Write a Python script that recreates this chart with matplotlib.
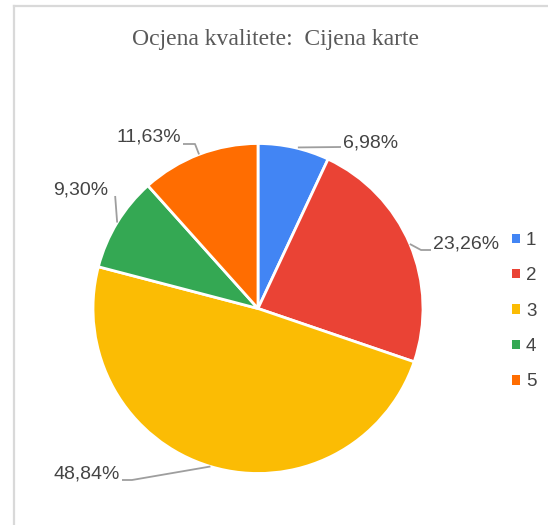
import matplotlib
matplotlib.use("Agg")
import matplotlib.pyplot as plt
import numpy as np
from matplotlib.patches import Patch
from matplotlib.lines import Line2D

# ---- data ----
categories = ["1", "2", "3", "4", "5"]
values = [6.98, 23.26, 48.84, 9.30, 11.63]
labels = ["6,98%", "23,26%", "48,84%", "9,30%", "11,63%"]
colors = ["#4285F4", "#EA4335", "#FBBC04", "#34A853", "#FF6D01"]
title = "Ocjena kvalitete:  Cijena karte"

W, H = 548, 525
fig = plt.figure(figsize=(W / 100, H / 100), dpi=100)
ax = fig.add_axes([0, 0, 1, 1])

cx, cy, r = 258, H - 308.5, 165
wedges, _ = ax.pie(values, colors=colors, startangle=90, counterclock=False,
                   center=(cx, cy), radius=r, frame=True,
                   wedgeprops=dict(edgecolor="white", linewidth=2))
ax.set_xlim(0, W)
ax.set_ylim(0, H)
ax.set_aspect("auto")
ax.axis("off")

# label layout: text anchor (pixel coords, y from top), alignment, elbow length
label_layout = [
    ((343, 143), "left", 0),
    ((433, 244), "left", 10),
    ((120, 474), "right", 10),
    ((108, 190), "right", 0),
    ((181, 137), "right", 12),
]

line_col = "#9e9e9e"
txt_col = "#444444"
for w, lab, (pos, ha, elb) in zip(wedges, labels, label_layout):
    ang = np.deg2rad((w.theta1 + w.theta2) / 2)
    ex, ey = cx + r * np.cos(ang), cy + r * np.sin(ang)
    tx, ty = pos[0], H - pos[1]
    if lab == "9,30%":
        pts = [(ex, ey), (ex - 2, ty - 6)]
    elif lab == "6,98%":
        pts = [(ex + 4, ey), (tx - 2, ty - 4)]
    else:
        lty = ty - 6 if lab != "11,63%" else ty - 7
        gx = tx - 2 if ha == "left" else tx + 2
        kx = gx - elb if ha == "left" else gx + elb
        pts = [(ex, ey), (kx, lty), (gx, lty)]
    xs, ys = zip(*pts)
    ax.plot(xs, ys, color=line_col, lw=1.3, solid_capstyle="butt")
    ax.text(tx, ty, lab, ha=ha, va="center", fontsize=14, color=txt_col,
            family="Liberation Sans")

fig.text(275 / W, 1 - 40 / H, title, ha="center", va="center", fontsize=17,
         color="#595959", family="Liberation Serif")

# border (left and top)
fig.add_artist(Line2D([14 / W, 14 / W], [0, 1 - 5.5 / H], transform=fig.transFigure,
                      color="#d9d9d9", lw=1.6))
fig.add_artist(Line2D([14 / W, 1], [1 - 5.5 / H, 1 - 5.5 / H], transform=fig.transFigure,
                      color="#d9d9d9", lw=1.6))

handles = [Patch(facecolor=c, edgecolor="none") for c in colors]
leg = fig.legend(handles, categories, loc="upper left",
                 bbox_to_anchor=(512 / W, 1 - 232 / H), bbox_transform=fig.transFigure,
                 frameon=False, handlelength=0.4, handleheight=0.4,
                 handletextpad=0.35, labelspacing=0.98, borderpad=0, borderaxespad=0,
                 prop=dict(family="Liberation Sans", size=13.5))
for t in leg.get_texts():
    t.set_color(txt_col)

fig.savefig("out.png", dpi=100, facecolor="white")
